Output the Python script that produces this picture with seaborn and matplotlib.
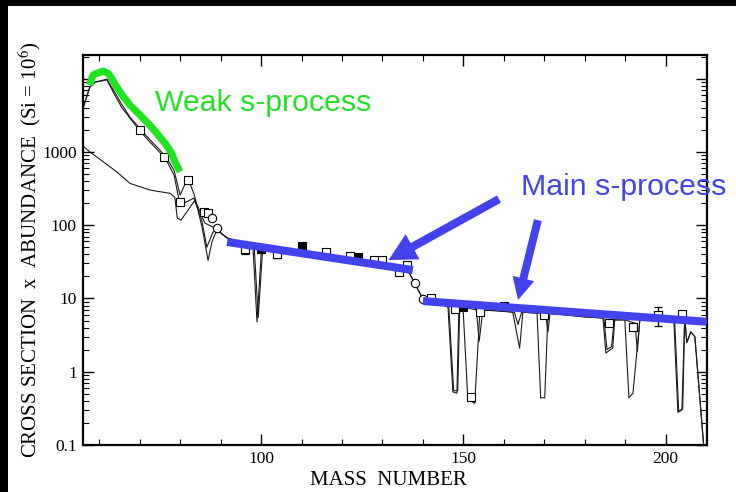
import matplotlib
matplotlib.use("Agg")
import matplotlib.pyplot as plt
import seaborn as sns
from matplotlib.patches import Rectangle
from matplotlib.ticker import FixedLocator, LogLocator, NullFormatter, MultipleLocator

# --- network-calculation curves (sigma*N vs mass number) ---
m1_mass = [56.0, 57.7, 59.0, 61.9, 63.5, 65.5, 67.6, 70.0, 72.6, 75.0, 77.0, 78.5, 80.0, 81.9,
           83.5, 85.5, 86.9, 87.9, 89.1, 91.6, 94.5, 98.0, 99.0, 100.1, 104.0, 108.0, 112.0,
           116.0, 120.0, 124.0, 128.0, 132.0, 134.0, 136.5, 138.0, 140.0, 142.2, 146.2, 147.4,
           148.4, 148.9, 149.9, 151.1, 152.8, 154.1, 158.0, 162.2, 163.9, 164.7, 168.2, 169.1,
           170.1, 170.9, 176.0, 180.0, 184.5, 185.2, 186.9, 187.4, 189.9, 190.9, 191.9, 193.6,
           198.0, 202.0, 203.0, 204.0, 204.7, 205.2, 206.2, 207.2, 209.4]
m1_val = [3960, 7700, 8950, 9840, 7000, 4500, 2990, 2100, 1450, 1060, 773, 560, 258, 440,
          260, 90, 33, 60, 86, 67, 60, 51, 4.8, 47, 45, 42, 39,
          36, 33, 31, 28.5, 26, 24, 23, 16, 9.8, 9.2, 7.6, 0.53,
          0.51, 7.6, 7.6, 0.42, 0.37, 7.0, 6.8, 6.5, 2.1, 6.5, 6.3, 0.44,
          0.44, 6.3, 5.9, 5.6, 5.4, 1.8, 2.1, 5.1, 5.1, 0.44, 0.51, 5.1,
          5.1, 5.1, 0.28, 0.30, 5.6, 2.5, 3.5, 3.0, 0.095]

m2_mass = [56.0, 57.7, 59.0, 61.9, 63.5, 65.5, 68.4, 70.0, 72.6, 75.0, 77.0, 78.5, 80.0, 83.4,
           85.3, 86.6, 88.1, 89.1, 91.6, 94.5, 98.3, 99.3, 100.4, 104.0, 108.0, 112.0, 116.0,
           120.0, 124.0, 128.0, 132.0, 134.0, 136.5, 138.0, 140.0, 142.2, 146.4, 147.6, 148.6,
           149.1, 150.0, 153.2, 153.9, 154.8, 158.0, 162.6, 163.5, 164.4, 168.2, 170.3, 170.9,
           171.4, 176.0, 180.0, 184.7, 185.5, 186.6, 187.3, 190.0, 192.4, 193.0, 193.6, 198.0,
           202.2, 203.2, 204.2, 204.7, 205.2, 206.2, 207.2, 209.4]
m2_val = [3960, 7700, 8950, 9600, 6500, 4100, 2530, 1950, 1350, 980, 700, 480, 188, 234,
          120, 50, 80, 86, 67, 60, 51, 5.5, 47, 45, 42, 39, 36,
          33, 31, 28.5, 26, 24, 23, 16, 9.8, 9.2, 7.6, 0.55, 0.55,
          7.6, 7.6, 7.0, 2.6, 6.9, 6.8, 6.5, 4.4, 6.5, 6.3, 6.2, 3.5,
          6.2, 5.9, 5.6, 5.4, 2.0, 2.2, 5.1, 5.1, 4.6, 1.9, 5.1, 5.1,
          5.1, 0.29, 0.31, 5.6, 2.5, 3.5, 3.0, 0.095]

m3_mass = [56.0, 57.7, 61.0, 64.3, 67.6, 72.6, 77.5, 78.7, 79.3, 80.2, 83.7, 86.1, 88.6, 91.6]
m3_val = [1200, 1000, 733, 536, 372, 301, 272, 240, 125, 117, 220, 107, 91, 67]

# --- measured s-only abundances ---
sq_mass = [70, 76, 80, 82, 86, 87, 96, 104, 116, 122, 128, 130, 134, 136, 142, 148, 152,
           154, 170, 186, 192, 198, 204]
sq_val = [1980, 849, 207, 412, 151, 146, 47, 40, 43, 38, 33, 33, 23, 29, 10, 7.2, 0.45,
          6.5, 5.9, 4.6, 4.1, 5.9, 6.1]
filled_mass = [100, 110, 124, 150, 160]
filled_val = [47, 52, 37, 7.6, 7.8]
circ_mass = [88, 89, 138, 140]
circ_val = [125, 91, 16, 9.8]
err_mass = [96, 104, 198]
err_val = [47, 40, 5.9]
err_lo = [40, 36, 4.2]
err_hi = [54, 44, 7.7]

# --- components ---
weak_mass = [57.6, 58.5, 59.8, 61.0, 62.2, 63.1, 64.3, 66.0, 67.6, 69.7, 70.5, 71.7, 73.0,
             74.6, 76.3, 77.1, 77.9, 78.7, 80.0]
weak_val = [8150, 11200, 12000, 12650, 11800, 10070, 7730, 5650, 4350, 3350, 3020, 2580, 2160,
            1700, 1300, 1120, 955, 733, 536]
main1_mass = [91.6, 137.5]
main1_val = [59, 24.4]
main2_mass = [140.0, 210.2]
main2_val = [9.2, 4.8]

x_ticks = [100, 150, 200]
y_ticks = [0.1, 1, 10, 100, 1000, 10000]
y_tick_labels = ["0.1", "1", "10", "100", "1000", ""]

GREEN = "#22e322"
BLUE = "#4343ee"

sns.set_theme(style="white")
plt.rcParams["font.family"] = ["Liberation Serif", "DejaVu Serif"]
plt.rcParams["mathtext.fontset"] = "stix"

W, H = 736, 492
fig = plt.figure(figsize=(W / 100, H / 100), dpi=100)
fig.patch.set_facecolor("white")
fig.patches.append(Rectangle((0, 1 - 6 / H), 1, 6 / H, transform=fig.transFigure,
                             facecolor="black", edgecolor="none", zorder=0))
fig.patches.append(Rectangle((0, 0), 8 / W, 1, transform=fig.transFigure,
                             facecolor="black", edgecolor="none", zorder=0))

ax = fig.add_axes([83 / W, 47 / H, 624 / W, 390 / H])
ax.set_facecolor("white")
ax.set_yscale("log")

for mx, mv in [(m1_mass, m1_val), (m2_mass, m2_val), (m3_mass, m3_val)]:
    sns.lineplot(x=mx, y=mv, ax=ax, color="#1a1a1a", lw=0.8, estimator=None, sort=False,
                 zorder=2)

ax.errorbar(err_mass, err_val,
            yerr=[[v - lo for v, lo in zip(err_val, err_lo)],
                  [hi - v for v, hi in zip(err_val, err_hi)]],
            fmt="none", ecolor="black", elinewidth=0.9, capsize=3, capthick=0.9, zorder=3)
sns.scatterplot(x=sq_mass, y=sq_val, ax=ax, marker="s", s=36, facecolor="white",
                edgecolor="black", linewidth=0.8, zorder=3)
sns.scatterplot(x=err_mass, y=err_val, ax=ax, marker="s", s=36, facecolor="white",
                edgecolor="black", linewidth=0.8, zorder=3)
sns.scatterplot(x=filled_mass, y=filled_val, ax=ax, marker="s", s=36, facecolor="black",
                edgecolor="black", linewidth=0.8, zorder=3)
sns.scatterplot(x=circ_mass, y=circ_val, ax=ax, marker="o", s=36, facecolor="white",
                edgecolor="black", linewidth=0.8, zorder=3)

sns.lineplot(x=weak_mass, y=weak_val, ax=ax, color=GREEN, lw=5.2, estimator=None, sort=False,
             zorder=5, solid_capstyle="butt")
sns.lineplot(x=main1_mass, y=main1_val, ax=ax, color=BLUE, lw=5.8, estimator=None,
             sort=False, zorder=5, solid_capstyle="butt")
sns.lineplot(x=main2_mass, y=main2_val, ax=ax, color=BLUE, lw=5.8, estimator=None,
             sort=False, zorder=5, solid_capstyle="butt")

ax.annotate("", xy=(131.5, 33.4), xytext=(158.8, 227),
            arrowprops=dict(arrowstyle="simple,head_length=1.1,head_width=1.15,tail_width=0.33",
                            mutation_scale=18, color=BLUE, lw=0, shrinkA=0, shrinkB=0),
            zorder=6)
ax.annotate("", xy=(163.5, 9.5), xytext=(168.4, 117),
            arrowprops=dict(arrowstyle="simple,head_length=1.0,head_width=1.0,tail_width=0.36",
                            mutation_scale=16, color=BLUE, lw=0, shrinkA=0, shrinkB=0),
            zorder=6)

ax.text(73.8, 4630, "Weak s-process", color=GREEN, fontsize=21.8, ha="left", va="center",
        family=["Liberation Sans", "DejaVu Sans"], zorder=6)
ax.text(164.2, 331, "Main s-process", color=BLUE, fontsize=21.8, ha="left", va="center",
        family=["Liberation Sans", "DejaVu Sans"], zorder=6, clip_on=False)

ax.set_xlim(56, 210.2)
ax.set_ylim(0.1, 21000)
ax.xaxis.set_major_locator(FixedLocator(x_ticks))
ax.xaxis.set_minor_locator(MultipleLocator(10))
ax.set_yticks(y_ticks)
ax.set_yticklabels(y_tick_labels)
ax.yaxis.set_minor_locator(LogLocator(base=10, subs=range(2, 10)))
ax.yaxis.set_minor_formatter(NullFormatter())
ax.tick_params(which="both", direction="in", top=True, right=True, bottom=True, left=True,
               color="black", labelsize=12.5, labelcolor="black", pad=4.5)
ax.tick_params(which="major", length=8, width=1.0)
ax.tick_params(which="minor", length=4, width=0.8)
for s in ax.spines.values():
    s.set_visible(True)
    s.set_color("black")
    s.set_linewidth(1.6)

ax.set_xlabel("MASS  NUMBER", fontsize=15, color="black")
ax.set_ylabel("CROSS SECTION  x  ABUNDANCE  (Si = 10$^6$)", fontsize=15, color="black")
ax.xaxis.set_label_coords(0.49, -0.066)
ax.yaxis.set_label_coords(-0.064, 0.5)

fig.savefig("out.png", dpi=100, facecolor=fig.get_facecolor())
